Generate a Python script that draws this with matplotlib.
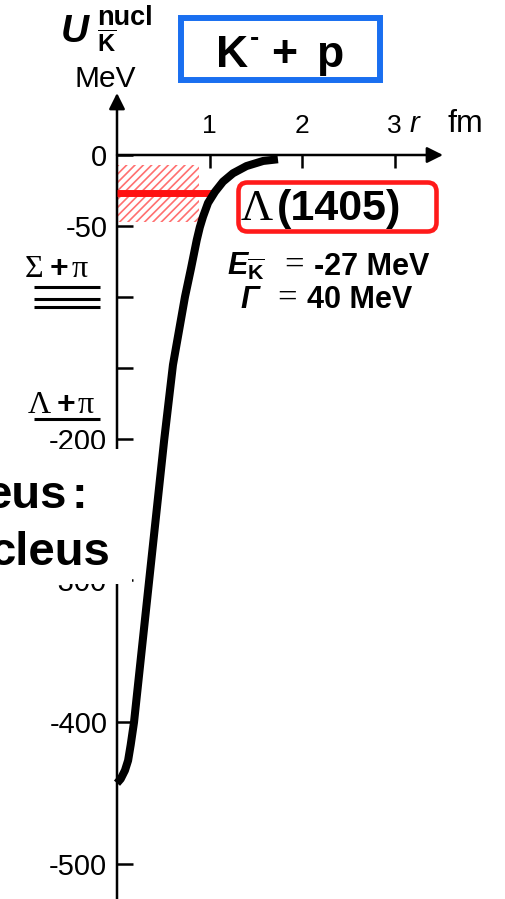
import matplotlib
matplotlib.use('Agg')
import matplotlib.pyplot as plt
from matplotlib import patches
from matplotlib import transforms as mtransforms

plt.rcParams['font.family'] = ['Liberation Sans', 'DejaVu Sans']
plt.rcParams['mathtext.fontset'] = 'custom'
plt.rcParams['mathtext.rm'] = 'Liberation Serif'
plt.rcParams['mathtext.it'] = 'Liberation Sans:italic:bold'
plt.rcParams['mathtext.bf'] = 'Liberation Sans:bold'
plt.rcParams['hatch.linewidth'] = 1.2

# K- p potential U(r), MeV vs fm
r_fm = [0.0, 0.04, 0.086, 0.12, 0.148, 0.184, 0.346, 0.51, 0.605, 0.735,
        0.80, 0.862, 0.895, 0.93, 0.984, 1.06, 1.146, 1.254, 1.40, 1.58, 1.74]
u_mev = [-443, -440, -434, -427, -416, -400, -301, -201, -148, -100,
         -80, -60, -51, -43.5, -33.8, -25.9, -18.8, -12.9, -7.8, -4.2, -3.0]

# Lambda(1405) binding and width
E_bind = -27
Gamma = 40
lam_r_max = 1.05
band_r_max = 0.886

# decay thresholds drawn next to the axis
sigma_pi_levels = [-93, -101.5, -107]
lambda_pi_levels = [-186]

y_ticks = [0, -50, -100, -150, -200, -300, -400, -500]
y_labels = ['0', '-50', '', '', '-200', '-300', '-400', '-500']
x_ticks = [1, 2, 3]
x_labels = ['1', '2', '3']

W, H = 506, 899
fig = plt.figure(figsize=(W / 100, H / 100), dpi=100)
ax = fig.add_axes([0, 0, 1, 1])
ax.set_xlim(-117 / 92.5, (W - 117) / 92.5)
ax.set_ylim(-(H - 155) / 1.418, 155 / 1.418)

# pixel coords, origin top-left
pix = mtransforms.Affine2D().scale(1 / 100, -1 / 100).translate(0, H / 100) + fig.dpi_scale_trans

for s in ax.spines.values():
    s.set_visible(False)
ax.spines['left'].set_position(('data', 0))
ax.spines['top'].set_position(('data', 0))
ax.xaxis.tick_top()
ax.set_yticks(y_ticks, labels=y_labels)
ax.set_xticks(x_ticks, labels=x_labels)
ax.tick_params(axis='y', direction='in', length=11.5, width=1.8, labelsize=21, pad=7)
ax.tick_params(axis='x', direction='in', length=9.5, width=1.8, labelsize=19, pad=12)

# axes with arrow heads
ax.annotate('', xy=(326 / 92.5, 0), xytext=(0, 0),
            arrowprops=dict(arrowstyle='-|>', lw=1.8, color='k', mutation_scale=24,
                            shrinkA=0, shrinkB=0))
ax.annotate('', xy=(0, 62 / 1.418), xytext=(0, -540),
            arrowprops=dict(arrowstyle='-|>', lw=1.8, color='k', mutation_scale=24,
                            shrinkA=0, shrinkB=0))

# resonance width band and level
ax.fill_between([0, band_r_max], E_bind - Gamma / 2, E_bind + Gamma / 2,
                facecolor='none', edgecolor='#ff7070', hatch='////', lw=0, zorder=2)
ax.plot([0, lam_r_max], [E_bind, E_bind], color='#ff1010', lw=5, solid_capstyle='butt', zorder=3)

ax.plot(r_fm, u_mev, color='k', lw=5.8, solid_capstyle='butt', solid_joinstyle='round', zorder=5)

ax.hlines(sigma_pi_levels, -0.897, -0.184, color='k', lw=2.2)
ax.hlines(lambda_pi_levels, -0.897, -0.184, color='k', lw=2.2)

# boxes
fig.add_artist(patches.Rectangle((181, 18), 199, 62, transform=pix, fill=False,
                                 edgecolor='#1a6ff0', lw=4.3, zorder=2))
fig.add_artist(patches.FancyBboxPatch((238.5, 182.5), 198, 49, transform=pix,
                                      boxstyle='round,pad=0,rounding_size=9',
                                      fill=False, edgecolor='#ff1a1a', lw=3.3, zorder=2))
fig.add_artist(patches.Rectangle((0, 449), 132, 135, transform=pix,
                                 facecolor='white', edgecolor='none', zorder=2))


def txt(x, y, s, **kw):
    kw.setdefault('va', 'baseline')
    kw.setdefault('zorder', 4)
    fig.text(x, y, s, transform=pix, **kw)


serif = 'Liberation Serif'

txt(61, 42, 'U', fontsize=28, weight='bold', style='italic')
txt(97, 25, 'nucl', fontsize=19.5, weight='bold')
txt(97, 52, r'$\overline{\mathbf{K}}$', fontsize=17)
txt(105, 87, 'MeV', fontsize=21.5, ha='center')
txt(410, 132, 'r', fontsize=21, style='italic')
txt(447, 132, 'fm', fontsize=23)

txt(216, 67, 'K', fontsize=32, weight='bold')
txt(250, 46, '-', fontsize=20, weight='bold')
txt(284, 67, '+', fontsize=32, weight='bold', ha='center')
txt(316, 67, 'p', fontsize=32, weight='bold')

txt(241, 220, 'Λ', fontsize=32, family=serif)
txt(277, 220, '(1405)', fontsize=31, weight='bold')

txt(227, 275, r'$\mathit{E}_{\overline{\mathbf{K}}}$', fontsize=22)
txt(294, 275, '=', fontsize=25, family=serif, ha='center')
txt(314, 275, '-27 MeV', fontsize=22, weight='bold')
txt(240, 308, 'Γ', fontsize=22, weight='bold', style='italic')
txt(287, 308, '=', fontsize=25, family=serif, ha='center')
txt(307, 308, '40 MeV', fontsize=22, weight='bold')

txt(25, 277, 'Σ', fontsize=23, family=serif)
txt(59, 277, '+', fontsize=23, weight='bold', ha='center')
txt(72, 277, 'π', fontsize=23, family=serif)
txt(28, 413, 'Λ', fontsize=23, family=serif)
txt(66, 413, '+', fontsize=23, weight='bold', ha='center')
txt(78, 413, 'π', fontsize=23, family=serif)

txt(67, 508, 'eus', fontsize=34, weight='bold', ha='right')
txt(79, 508, ':', fontsize=34, weight='bold', ha='center')
txt(110, 565, 'cleus', fontsize=34, weight='bold', ha='right')

fig.savefig('out.png', dpi=100)
